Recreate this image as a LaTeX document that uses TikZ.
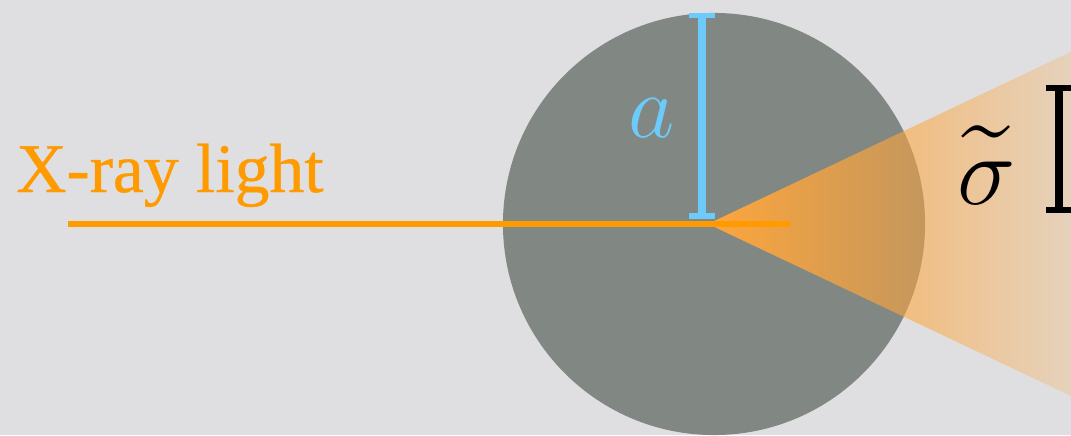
\RequirePackage{fix-cm}
\documentclass[tikz,border=0pt]{standalone}
\usepackage[no-math]{fontspec}
\newfontfamily\beamfont[FakeBold=0.6]{Liberation Serif}
\usepackage{amsmath}
\usetikzlibrary{fadings}
\definecolor{bgpaper}{HTML}{DFDFE1}
\definecolor{ballgray}{HTML}{818783}
\definecolor{xorange}{HTML}{FF9A00}
\definecolor{conecol}{HTML}{FFA63C}
\definecolor{radblue}{HTML}{6CCBFA}
\tikzfading[name=conefade, left color=transparent!0, middle color=transparent!32, right color=transparent!86]
\newcommand{\bigtilde}{\rlap{\makebox[40pt][c]{\raisebox{-10pt}{\scalebox{1.3}[1.2]{\fontsize{85}{85}\selectfont\symbol{"02DC}}}}}}

\begin{document}
\begin{tikzpicture}[x=0.025cm,y=-0.025cm,every node/.style={inner sep=0pt},
  barstem/.style={line width=5.5pt},barcap/.style={line width=3.6pt},
  bigmath/.style={font=\fontsize{64}{70}\selectfont}]
\fill[bgpaper] (0,0) rectangle (1071,435);
\clip (0,0) rectangle (1071,435);
% sphere
\fill[ballgray] (714,224) circle (5.275cm);
% scattered cone
\coordinate (apex) at (708,224);
\coordinate (conetop) at (1110,33.5);
\coordinate (conebot) at (1110,414.5);
\fill[conecol,path fading=conefade] (apex) -- (conetop) -- (conebot) -- cycle;
% incoming beam
\coordinate (beamstart) at (68,224);
\coordinate (beamend) at (790,224);
\draw[xorange,line width=3.6pt] (beamstart) -- (beamend);
\node[xorange,font=\beamfont\fontsize{49.5}{54}\selectfont,anchor=base west] (xlabel) at (16,192) {X-ray light};
% size bars
\foreach \col/\x/\ya/\yb in {radblue/702/15.5/216, black/1059/88/210}{
 \draw[\col,barstem] (\x,\ya) -- (\x,\yb);
 \draw[\col,barcap] (\x-13,\ya) -- (\x+13,\ya);
 \draw[\col,barcap] (\x-13,\yb) -- (\x+13,\yb);}
\node[radblue,bigmath] (radius) at (652,118) {$a$};
\node[font=\fontsize{70}{76}\selectfont,anchor=base] (sigma) at (987,204) {\bigtilde$\sigma$};
\end{tikzpicture}
\end{document}
